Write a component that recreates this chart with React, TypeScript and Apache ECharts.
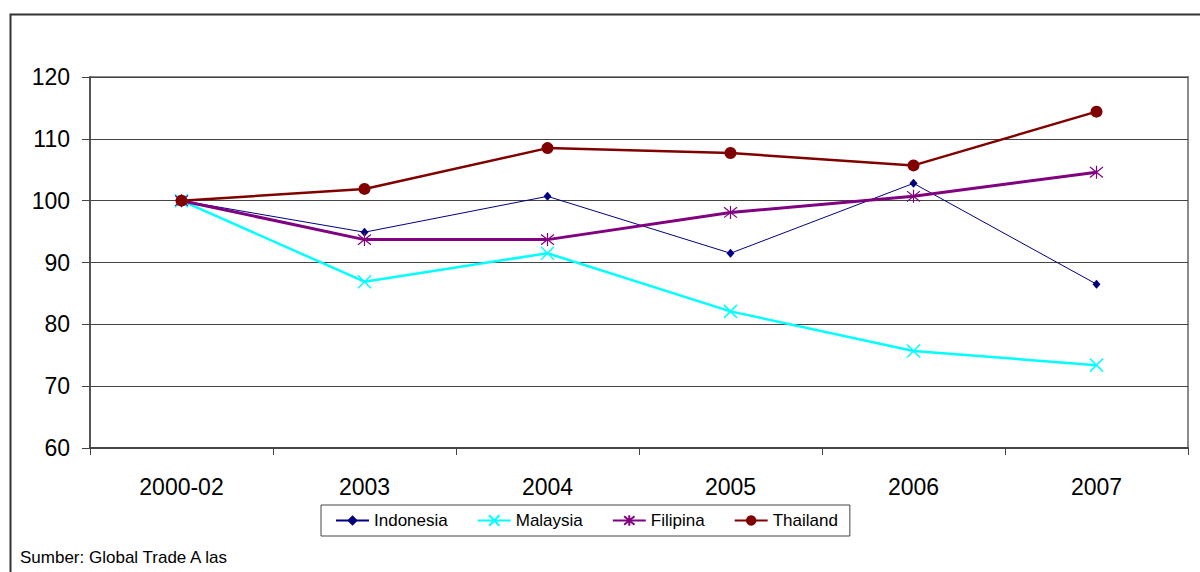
import React, { useEffect, useRef } from 'react';
import * as echarts from 'echarts';

const categories = ['2000-02', '2003', '2004', '2005', '2006', '2007'];
const indonesia = [100, 94.9, 100.7, 91.5, 102.8, 86.5];
const malaysia = [100, 86.9, 91.5, 82.1, 75.7, 73.4];
const filipina = [100, 93.7, 93.7, 98.1, 100.7, 104.6];
const thailand = [100, 101.9, 108.5, 107.7, 105.7, 114.4];
const sourceNote = 'Sumber: Global Trade A las';

const FONT = '"Liberation Sans", Arial, sans-serif';
const CROSS = 'path://M0,0L10,10M10,0L0,10';
const STAR = 'path://M1,1L9,9M9,1L1,9M5,0L5,10';

const App: React.FC = () => {
  const chartRef = useRef<HTMLDivElement>(null);

  useEffect(() => {
    if (!chartRef.current) return;
    const chart = echarts.init(chartRef.current, undefined, { renderer: 'svg' });

    const option: echarts.EChartsOption = {
      animation: false,
      backgroundColor: '#fff',
      textStyle: { fontFamily: FONT },
      grid: {
        left: 90,
        right: 12,
        top: 77,
        bottom: 124,
        show: true,
        borderColor: '#8a8a8a',
        borderWidth: 2,
      },
      legend: {
        left: 321,
        top: 505,
        itemWidth: 33,
        itemHeight: 13,
        itemGap: 29,
        padding: [7, 12, 7, 14],
        borderColor: '#444',
        borderWidth: 1,
        textStyle: { fontSize: 17, color: '#000', fontFamily: FONT },
        data: ['Indonesia', 'Malaysia', 'Filipina', 'Thailand'],
      },
      xAxis: {
        type: 'category',
        data: categories,
        boundaryGap: true,
        axisLine: { lineStyle: { color: '#444', width: 2 } },
        axisTick: { show: true, length: 7, lineStyle: { color: '#444', width: 1 } },
        axisLabel: { fontSize: 23, color: '#000', margin: 27, fontFamily: FONT },
        splitLine: { show: false },
      },
      yAxis: {
        type: 'value',
        min: 60,
        max: 120,
        interval: 10,
        axisLine: { show: true, lineStyle: { color: '#555', width: 2 } },
        axisTick: { show: true, length: 8, lineStyle: { color: '#444', width: 1 } },
        axisLabel: { fontSize: 23, color: '#000', margin: 20, fontFamily: FONT },
        splitLine: { show: true, lineStyle: { color: '#444', width: 1 } },
      },
      series: [
        {
          name: 'Indonesia',
          type: 'line',
          data: indonesia,
          symbol: 'diamond',
          symbolSize: [8, 9],
          itemStyle: { color: '#000080' },
          lineStyle: { color: '#000080', width: 1 },
        },
        {
          name: 'Malaysia',
          type: 'line',
          data: malaysia,
          symbol: CROSS,
          symbolSize: 13,
          itemStyle: { color: '#00ffff', borderColor: '#00ffff', borderWidth: 1.5 },
          lineStyle: { color: '#00ffff', width: 2.5 },
        },
        {
          name: 'Filipina',
          type: 'line',
          data: filipina,
          symbol: STAR,
          symbolSize: 13,
          itemStyle: { color: '#800080', borderColor: '#800080', borderWidth: 1.2 },
          lineStyle: { color: '#800080', width: 3 },
        },
        {
          name: 'Thailand',
          type: 'line',
          data: thailand,
          symbol: 'circle',
          symbolSize: 12,
          itemStyle: { color: '#800000' },
          lineStyle: { color: '#800000', width: 2.5 },
        },
      ],
      graphic: [
        {
          type: 'rect',
          left: 8,
          top: 12,
          shape: { width: 1300, height: 700 },
          style: { fill: 'none', stroke: '#333', lineWidth: 2 },
          silent: true,
        },
        {
          type: 'text',
          left: 20,
          top: 549,
          style: { text: sourceNote, fontSize: 17, fill: '#000', font: `17px ${FONT}` },
        },
      ],
    };

    chart.setOption(option);

    return () => {
      chart.dispose();
    };
  }, []);

  return (
    <div
      ref={chartRef}
      style={{ position: 'fixed', left: 0, top: 0, width: '1200px', height: '572px' }}
    />
  );
};

export default App;
